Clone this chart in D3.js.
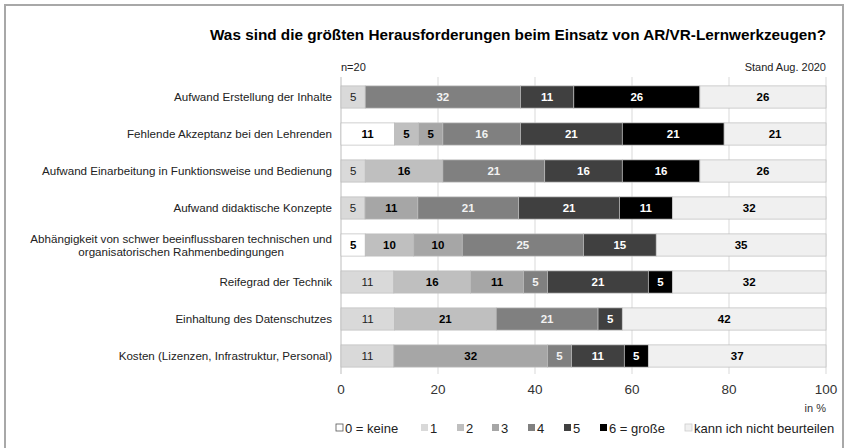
<html>
<head>
<script src="https://d3js.org/d3.v7.min.js"></script>
<style>
  body { margin: 0; background: #fff; }
  text { font-family: "Liberation Sans", Arial, sans-serif; }
</style>
</head>
<body>
<svg id="chart" width="845" height="448"></svg>
<script>
const categories = [
  "Aufwand Erstellung der Inhalte",
  "Fehlende Akzeptanz bei den Lehrenden",
  "Aufwand Einarbeitung in Funktionsweise und Bedienung",
  "Aufwand didaktische Konzepte",
  "Abhängigkeit von schwer beeinflussbaren technischen und|organisatorischen Rahmenbedingungen",
  "Reifegrad der Technik",
  "Einhaltung des Datenschutzes",
  "Kosten (Lizenzen, Infrastruktur, Personal)"
];
const levels = ["0 = keine", "1", "2", "3", "4", "5", "6 = große", "kann ich nicht beurteilen"];
// one array per answer level, values in % per category (same order as categories)
const keine0 = [0, 11, 0, 0, 5, 0, 0, 0];
const stufe1 = [5, 0, 5, 5, 0, 11, 11, 11];
const stufe2 = [0, 5, 16, 0, 10, 16, 21, 0];
const stufe3 = [0, 5, 0, 11, 10, 11, 0, 32];
const stufe4 = [32, 16, 21, 21, 25, 5, 21, 5];
const stufe5 = [11, 21, 16, 21, 15, 21, 5, 11];
const grosse6 = [26, 21, 16, 11, 0, 5, 0, 5];
const kannNicht = [26, 21, 26, 32, 35, 32, 42, 37];
const xTicks = [0, 20, 40, 60, 80, 100];

const series = [keine0, stufe1, stufe2, stufe3, stufe4, stufe5, grosse6, kannNicht];
const colors = ["#ffffff", "#d9d9d9", "#bfbfbf", "#a6a6a6", "#808080", "#404040", "#000000", "#f0f0f0"];
const textColors = ["#000", "#222", "#000", "#000", "#f2f2f2", "#fff", "#fff", "#000"];
const textWeights = ["bold", "normal", "bold", "bold", "bold", "bold", "bold", "bold"];

const rows = categories.map((c, i) => {
  const r = { cat: c };
  levels.forEach((l, j) => r[l] = series[j][i]);
  return r;
});

const svg = d3.select("#chart");

// frame
svg.append("path")
  .attr("d", "M5,448 V5 H843 V448")
  .attr("fill", "none").attr("stroke", "#a8a8a8").attr("stroke-width", 2);

const x = d3.scaleLinear().domain([0, 1]).range([341, 826]);
const y = d3.scaleBand().domain(categories).range([78.5, 374.5]).paddingInner(0.4).paddingOuter(0.2);

const stack = d3.stack().keys(levels).offset(d3.stackOffsetExpand);
const stacked = stack(rows);

// grid
svg.append("g").selectAll("line").data(xTicks.slice(1))
  .join("line")
  .attr("x1", d => x(d / 100)).attr("x2", d => x(d / 100))
  .attr("y1", 77).attr("y2", 374)
  .attr("stroke", "#d9d9d9");
svg.append("line")
  .attr("x1", x(0)).attr("x2", x(0)).attr("y1", 77).attr("y2", 374)
  .attr("stroke", "#bdbdbd");

// bars
const layer = svg.append("g").selectAll("g").data(stacked).join("g")
  .attr("fill", (d, i) => colors[i]);

layer.selectAll("rect").data(d => d.filter(s => s.data[d.key] > 0))
  .join("rect")
  .attr("x", d => x(d[0]))
  .attr("width", d => x(d[1]) - x(d[0]))
  .attr("y", d => y(d.data.cat))
  .attr("height", y.bandwidth())
  .attr("stroke", "#bcbcbc")
  .attr("stroke-width", 0.7);

// value labels
stacked.forEach((s, i) => {
  svg.append("g").selectAll("text").data(s.filter(d => d.data[s.key] > 0))
    .join("text")
    .attr("x", d => (x(d[0]) + x(d[1])) / 2)
    .attr("y", d => y(d.data.cat) + y.bandwidth() / 2 + 4)
    .attr("text-anchor", "middle")
    .attr("font-size", 11.5).attr("font-weight", textWeights[i])
    .attr("fill", textColors[i])
    .text(d => d.data[s.key]);
});

// category labels
const catG = svg.append("g");
categories.forEach(c => {
  const parts = c.split("|");
  const cy = y(c) + y.bandwidth() / 2;
  if (parts.length === 1) {
    catG.append("text")
      .attr("x", 332).attr("y", cy + 4)
      .attr("text-anchor", "end").attr("font-size", 11.6).attr("fill", "#222")
      .text(c);
  } else {
    const first = catG.append("text")
      .attr("x", 332).attr("y", cy - 2)
      .attr("text-anchor", "end").attr("font-size", 11.6).attr("fill", "#222")
      .text(parts[0]);
    const w = first.node().getComputedTextLength();
    catG.append("text")
      .attr("x", 332 - w / 2).attr("y", cy + 11)
      .attr("text-anchor", "middle").attr("font-size", 11.6).attr("fill", "#222")
      .text(parts[1]);
  }
});

// x axis labels
svg.append("g").selectAll("text").data(xTicks)
  .join("text")
  .attr("x", d => x(d / 100)).attr("y", 394)
  .attr("text-anchor", "middle").attr("font-size", 13.5).attr("fill", "#333")
  .text(d => d);
svg.append("text").attr("x", 826).attr("y", 412)
  .attr("text-anchor", "end").attr("font-size", 11).attr("fill", "#333")
  .text("in %");

// title and notes
svg.append("text").attr("x", 826).attr("y", 40)
  .attr("text-anchor", "end").attr("font-size", 15).attr("font-weight", "bold")
  .attr("textLength", 616).attr("lengthAdjust", "spacingAndGlyphs")
  .text("Was sind die größten Herausforderungen beim Einsatz von AR/VR-Lernwerkzeugen?");
svg.append("text").attr("x", 341).attr("y", 71)
  .attr("font-size", 11).attr("fill", "#222").text("n=20");
svg.append("text").attr("x", 826).attr("y", 71)
  .attr("text-anchor", "end").attr("font-size", 11).attr("fill", "#222").text("Stand Aug. 2020");

// legend
const legendX = [336, 421, 457, 492, 528, 564, 600, 685];
const leg = svg.append("g").selectAll("g").data(levels).join("g")
  .attr("transform", (d, i) => `translate(${legendX[i]},428)`);
leg.append("rect")
  .attr("x", 0).attr("y", -4).attr("width", 7).attr("height", 7)
  .attr("fill", (d, i) => colors[i])
  .attr("stroke", (d, i) => i === 0 ? "#555" : (i === 7 ? "#ccc" : "none"))
  .attr("stroke-width", 0.8);
leg.append("text")
  .attr("x", 9).attr("y", 5)
  .attr("font-size", 13).attr("fill", "#222")
  .text(d => d);
</script>
</body>
</html>
